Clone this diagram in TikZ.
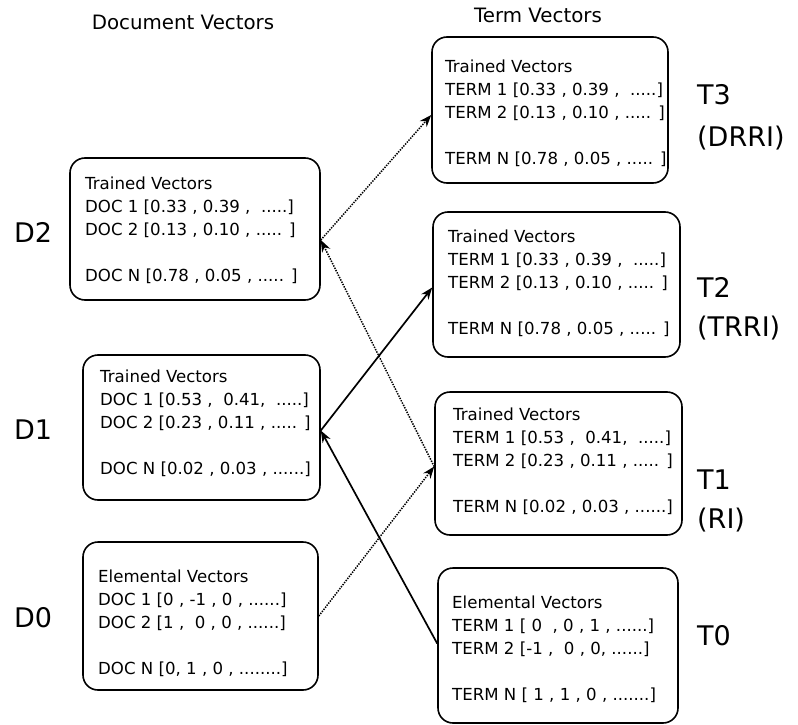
\documentclass[tikz,border=0pt]{standalone}
\usepackage{fontspec}
\setmainfont{DejaVu Sans}
\usetikzlibrary{arrows.meta}
\begin{document}
\begin{tikzpicture}[x=1pt,y=-1pt,
  box/.style={draw, line width=1.6pt, rounded corners=15pt, inner sep=0pt},
  txt/.style={anchor=north west, align=left, inner sep=0pt, font=\fontsize{16.6}{23}\selectfont},
  lbl/.style={inner sep=0pt, font=\fontsize{27}{27}\selectfont},
  rlbl/.style={anchor=west, inner sep=0pt, font=\fontsize{27}{27}\selectfont},
  head/.style={inner sep=0pt, font=\fontsize{19.8}{19.8}\selectfont},
  tip/.style={-{Stealth[length=12pt,width=9pt]}},
  dotline/.style={tip, line width=1.5pt, dash pattern=on 1.4pt off 1.2pt},
  solidline/.style={tip, line width=1.7pt}]
\useasboundingbox (0,0) rectangle (798,725);
% headings
\node[head] (hdoc) at (183,22) {Document Vectors};
\node[head] (hterm) at (538,15) {Term Vectors};
% document boxes
\node[box, minimum width=250pt, minimum height=142pt] (d2) at (195,229) {};
\node[txt] (d2t) at (85,177) {Trained Vectors\\DOC 1 [0.33 , 0.39 ,~ .....]\\DOC 2 [0.13 , 0.10 , ..... ]\\[23pt]DOC N [0.78 , 0.05 , ..... ]};
\node[box, minimum width=237pt, minimum height=145pt] (d1) at (201.5,427.5) {};
\node[txt] (d1t) at (100,370) {Trained Vectors\\DOC 1 [0.53 ,~ 0.41,~ .....]\\DOC 2 [0.23 , 0.11 , ..... ]\\[23pt]DOC N [0.02 , 0.03 , ......]};
\node[box, minimum width=235pt, minimum height=148pt] (d0) at (200.5,616) {};
\node[txt] (d0t) at (98,570) {Elemental Vectors\\DOC 1 [0 , -1 , 0 , ......]\\DOC 2 [1 ,~ 0 , 0 , ......]\\[23pt]DOC N [0, 1 , 0 , ........]};
% term boxes
\node[box, minimum width=236pt, minimum height=146pt] (t3) at (550,110) {};
\node[txt] (t3t) at (445,60) {Trained Vectors\\TERM 1 [0.33 , 0.39 ,~ .....]\\TERM 2 [0.13 , 0.10 , ..... ]\\[23pt]TERM N [0.78 , 0.05 , ..... ]};
\node[box, minimum width=247pt, minimum height=145pt] (t2) at (556.5,284.5) {};
\node[txt] (t2t) at (448,230) {Trained Vectors\\TERM 1 [0.33 , 0.39 ,~ .....]\\TERM 2 [0.13 , 0.10 , ..... ]\\[23pt]TERM N [0.78 , 0.05 , ..... ]};
\node[box, minimum width=247pt, minimum height=143pt] (t1) at (558.5,463.5) {};
\node[txt] (t1t) at (453,408) {Trained Vectors\\TERM 1 [0.53 ,~ 0.41,~ .....]\\TERM 2 [0.23 , 0.11 , ..... ]\\[23pt]TERM N [0.02 , 0.03 , ......]};
\node[box, minimum width=240pt, minimum height=155pt] (t0) at (558,645.5) {};
\node[txt] (t0t) at (452,596) {Elemental Vectors\\TERM 1 [ 0 ~, 0 , 1 , ......]\\TERM 2 [-1 ,~ 0 , 0, ......]\\[23pt]TERM N [ 1 , 1 , 0 , .......]};
% side labels
\node[lbl] (ld2) at (33,232) {D2};
\node[lbl] (ld1) at (33,430) {D1};
\node[lbl] (ld0) at (33,618) {D0};
\node[rlbl] (lt3) at (697,95) {T3};
\node[rlbl] (lt3b) at (697,138) {(DRRI)};
\node[rlbl] (lt2) at (697,287) {T2};
\node[rlbl] (lt2b) at (697,328) {(TRRI)};
\node[rlbl] (lt1) at (697,480) {T1};
\node[rlbl] (lt1b) at (697,520) {(RI)};
\node[rlbl] (lt0) at (697,636) {T0};
% connectors
\draw[dotline] ([yshift=-11pt]d2.east) -- ([yshift=-5pt]t3.west);
\draw[dotline] ([yshift=-3pt]t1.west) -- ([yshift=-11pt]d2.east);
\draw[solidline] ([yshift=-3pt]d1.east) -- ([yshift=-3pt]t2.west);
\draw[solidline] ([yshift=2pt]t0.west) -- ([yshift=-3pt]d1.east);
\draw[dotline] (d0.east) -- ([yshift=-3pt]t1.west);
\end{tikzpicture}
\end{document}
